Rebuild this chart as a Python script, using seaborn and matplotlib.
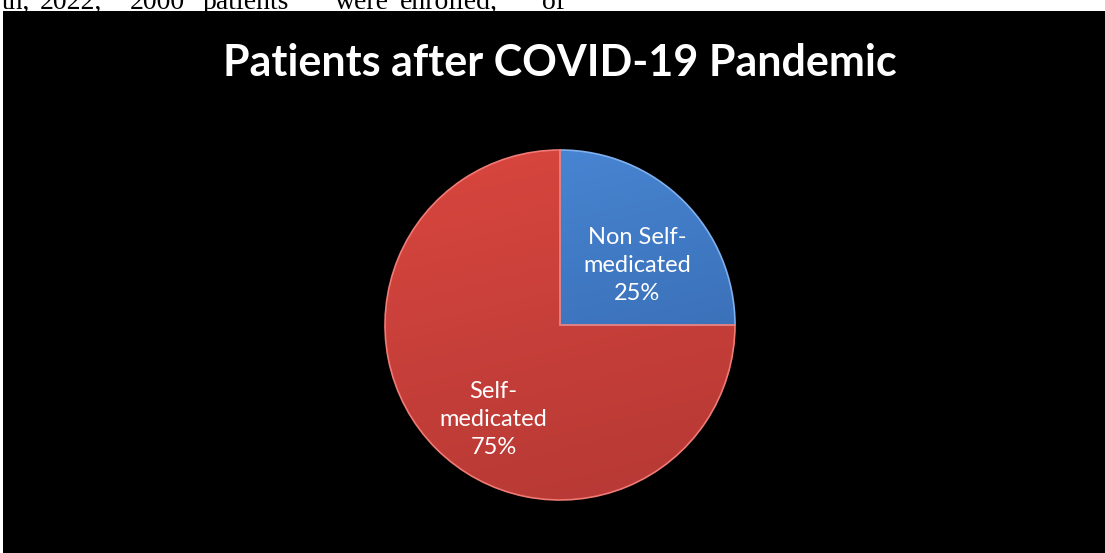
import numpy as np
import matplotlib
matplotlib.use("Agg")
import matplotlib.pyplot as plt
from matplotlib.patches import Rectangle
import seaborn as sns

sns.set_theme(style="white")
plt.rcParams['font.family'] = ['Lato', 'DejaVu Sans']

# Data
categories = ["Non Self-\nmedicated", "Self-\nmedicated"]
values = [25, 75]
colors = ["#4a88d6", "#d9463f"]
dark_colors = ["#3162a6", "#b53834"]
edge_colors = ["#7fb0ee", "#f07a74"]
title = "Patients after COVID-19 Pandemic"
doc_words = ["th,", "2022,", "2000", "patients", "were", "enrolled,", "of"]

W, H = 1105, 553
fig = plt.figure(figsize=(W / 100, H / 100), dpi=100)
fig.patch.set_facecolor("white")

# black chart area
fig.patches.append(Rectangle((3 / W, 0), 1, (H - 11) / H, transform=fig.transFigure,
                             facecolor="black", edgecolor="none", zorder=-5))

# cut-off document text at top
word_x = [2, 40, 130, 203, 335, 400, 542]
for wx, wd in zip(word_x, doc_words):
    fig.text(wx / W, (H - 9) / H, wd, family="Liberation Serif", fontsize=20,
             color="black", va="baseline", ha="left", zorder=-6)

# title
fig.text(560 / W, 1 - 63 / H, title, color="white", fontsize=31, fontweight="bold",
         ha="center", va="center", zorder=5)

# pie axes
cx, cy, r = 560, 325, 175
ax = fig.add_axes([(cx - r) / W, (H - cy - r) / H, 2 * r / W, 2 * r / H])
ax.set_zorder(2)
ax.set_facecolor("none")
wedges, _ = ax.pie(values, colors=colors, startangle=90, counterclock=False,
                   wedgeprops=dict(linewidth=1.2))

# gradient shading clipped to each wedge, wedge outline kept on top
yy, xx = np.mgrid[1:-1:300j, -1:1:300j]
t = np.clip((1 - yy) / 2 * 0.8 + (xx + 1) / 2 * 0.2, 0, 1)
for w, c1, c2, ec in zip(wedges, colors, dark_colors, edge_colors):
    a = np.array(matplotlib.colors.to_rgb(c1))
    b = np.array(matplotlib.colors.to_rgb(c2))
    img = a[None, None, :] * (1 - t[..., None]) + b[None, None, :] * t[..., None]
    im = ax.imshow(img, extent=(-1, 1, -1, 1), zorder=w.get_zorder() - 0.1)
    im.set_clip_path(w)
    w.set_facecolor("none")
    w.set_edgecolor(ec)
ax.set_xlim(-1.0, 1.0)
ax.set_ylim(-1.0, 1.0)
ax.set_aspect("auto")
ax.axis("off")

# labels
label_pos = [(0.44, 0.34), (-0.38, -0.54)]
for (lx, ly), cat, v in zip(label_pos, categories, values):
    ax.text(lx, ly, f"{cat}\n{v}%", color="white", fontsize=17, ha="center",
            va="center", linespacing=1.42, zorder=10)

fig.savefig("out.png", dpi=100, facecolor=fig.get_facecolor())
